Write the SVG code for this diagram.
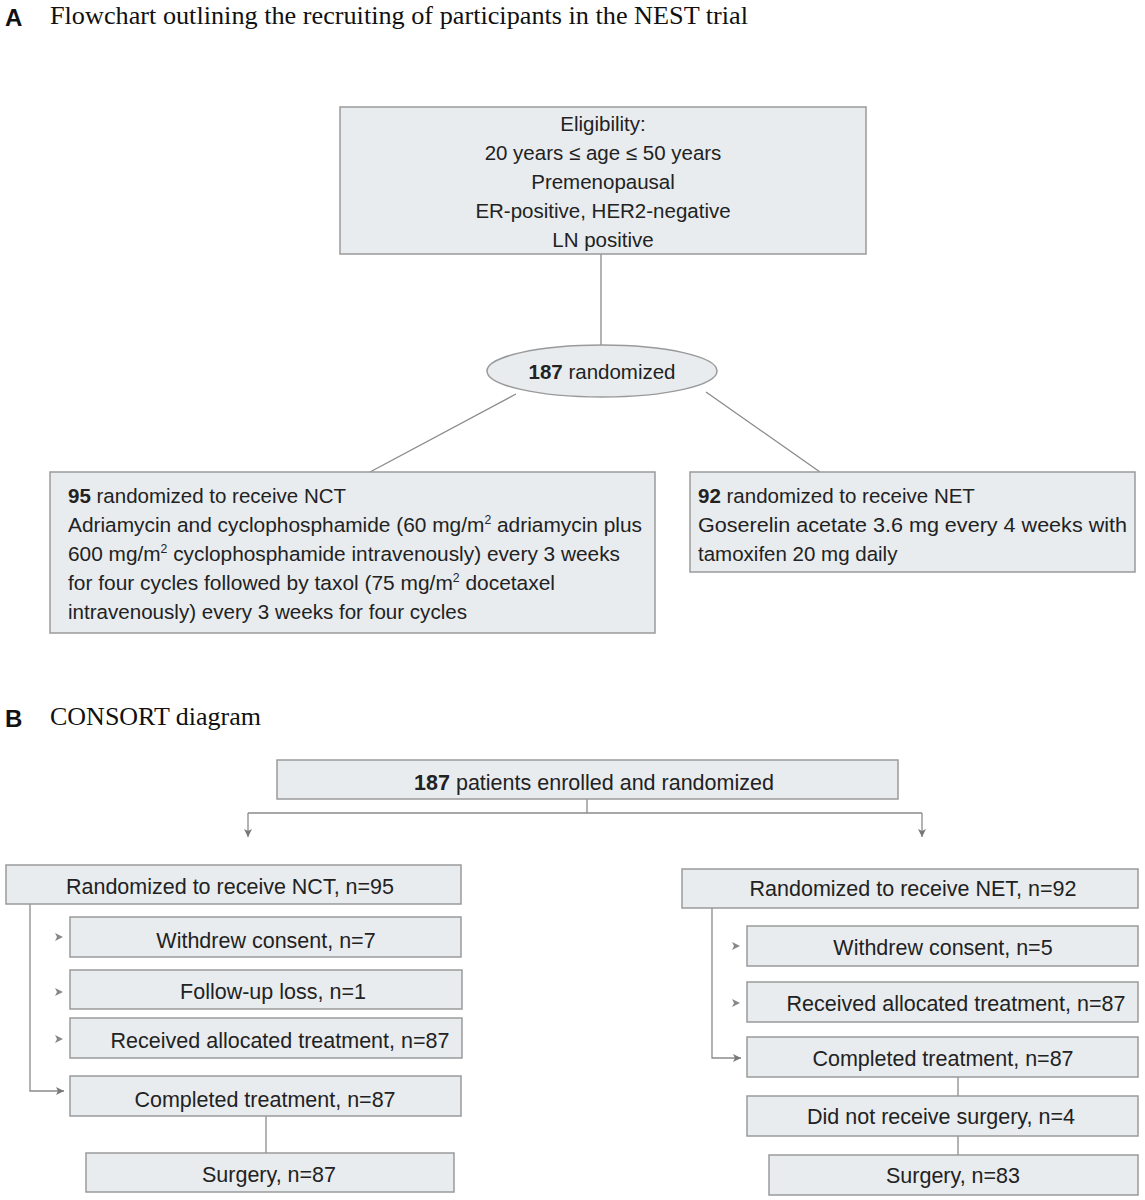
<svg xmlns="http://www.w3.org/2000/svg" width="1145" height="1200" viewBox="0 0 1145 1200">
<style>
.box{fill:#e8ecef;stroke:#9a9a9a;stroke-width:1.5}
.t{font-family:"Liberation Sans",Arial,sans-serif;font-size:20.5px;fill:#222}
.t2{font-family:"Liberation Sans",Arial,sans-serif;font-size:21.5px;fill:#222}
.c{text-anchor:middle}
.b{font-weight:bold}
.ttl{font-family:"Liberation Serif","Times New Roman",serif;font-size:25px;fill:#111}
.lbl{font-family:"Liberation Sans",Arial,sans-serif;font-size:24px;font-weight:bold;fill:#111}
.ln{stroke:#8a8a8a;stroke-width:1.3;fill:none}
.sup{font-size:12px}
</style>
<defs>
<marker id="ah" markerWidth="10" markerHeight="10" refX="9" refY="5" orient="auto" markerUnits="userSpaceOnUse">
<path d="M1,1 L9,5 L1,9 L3,5 Z" fill="#777"/>
</marker>
</defs>
<rect width="1145" height="1200" fill="#fff"/>
<text class="lbl" x="5" y="26">A</text>
<text class="ttl" x="50" y="24" textLength="698" lengthAdjust="spacingAndGlyphs">Flowchart outlining the recruiting of participants in the NEST trial</text>
<text class="lbl" x="5" y="727">B</text>
<text class="ttl" x="50" y="725" textLength="211" lengthAdjust="spacingAndGlyphs">CONSORT diagram</text>

<g id="connectors">
<line class="ln" x1="601" y1="254" x2="601" y2="345"/>
<line class="ln" x1="516" y1="394" x2="370" y2="472"/>
<line class="ln" x1="706" y1="392" x2="820" y2="472"/>
<line class="ln" x1="587" y1="799" x2="587" y2="813"/>
<line class="ln" x1="248" y1="813" x2="922" y2="813"/>
<line class="ln" x1="248" y1="813" x2="248" y2="837" marker-end="url(#ah)"/>
<line class="ln" x1="922" y1="813" x2="922" y2="837" marker-end="url(#ah)"/>
<polyline class="ln" points="30,904 30,1091 64,1091" marker-end="url(#ah)"/>
<path d="M55,933 L63,937 L55,941 L57,937 Z" fill="#888"/>
<path d="M55,988 L63,992 L55,996 L57,992 Z" fill="#888"/>
<path d="M55,1035 L63,1039 L55,1043 L57,1039 Z" fill="#888"/>
<line class="ln" x1="266" y1="1116" x2="266" y2="1153"/>
<polyline class="ln" points="712,908 712,1058 741,1058" marker-end="url(#ah)"/>
<path d="M732,942 L740,946 L732,950 L734,946 Z" fill="#888"/>
<path d="M732,999 L740,1003 L732,1007 L734,1003 Z" fill="#888"/>
<line class="ln" x1="958" y1="1077" x2="958" y2="1096"/>
<line class="ln" x1="958" y1="1136" x2="958" y2="1155"/>
</g>

<g id="eligibility">
<rect class="box" x="340" y="107" width="526" height="147"/>
<text class="t c" x="603" y="131">Eligibility:</text>
<text class="t c" x="603" y="160">20 years ≤ age ≤ 50 years</text>
<text class="t c" x="603" y="189">Premenopausal</text>
<text class="t c" x="603" y="218">ER-positive, HER2-negative</text>
<text class="t c" x="603" y="247">LN positive</text>
</g>

<g id="randomized">
<ellipse class="box" cx="602" cy="371" rx="115" ry="26"/>
<text class="t c" x="602" y="379"><tspan class="b">187</tspan> randomized</text>
</g>

<g id="nct">
<rect class="box" x="50" y="472" width="605" height="161"/>
<text class="t" x="68" y="503"><tspan class="b">95</tspan> randomized to receive NCT</text>
<text class="t" x="68" y="532" textLength="574" lengthAdjust="spacingAndGlyphs">Adriamycin and cyclophosphamide (60 mg/m<tspan class="sup" dy="-8">2</tspan><tspan dy="8"> adriamycin plus</tspan></text>
<text class="t" x="68" y="561" textLength="552" lengthAdjust="spacingAndGlyphs">600 mg/m<tspan class="sup" dy="-8">2</tspan><tspan dy="8"> cyclophosphamide intravenously) every 3 weeks</tspan></text>
<text class="t" x="68" y="590" textLength="487" lengthAdjust="spacingAndGlyphs">for four cycles followed by taxol (75 mg/m<tspan class="sup" dy="-8">2</tspan><tspan dy="8"> docetaxel</tspan></text>
<text class="t" x="68" y="619" textLength="399" lengthAdjust="spacingAndGlyphs">intravenously) every 3 weeks for four cycles</text>
</g>

<g id="net">
<rect class="box" x="690" y="472" width="445" height="100"/>
<text class="t" x="698" y="503"><tspan class="b">92</tspan> randomized to receive NET</text>
<text class="t" x="698" y="532" textLength="429" lengthAdjust="spacingAndGlyphs">Goserelin acetate 3.6 mg every 4 weeks with</text>
<text class="t" x="698" y="561">tamoxifen 20 mg daily</text>
</g>

<g id="enrolled">
<rect class="box" x="277" y="760" width="621" height="39"/>
<text class="t2 c" x="594" y="790"><tspan class="b">187</tspan> patients enrolled and randomized</text>
</g>

<g id="l1"><rect class="box" x="6" y="865" width="455" height="39"/><text class="t2 c" x="230" y="894">Randomized to receive NCT, n=95</text></g>
<g id="l2"><rect class="box" x="70" y="917" width="391" height="40"/><text class="t2 c" x="266" y="948">Withdrew consent, n=7</text></g>
<g id="l3"><rect class="box" x="70" y="970" width="392" height="39"/><text class="t2 c" x="273" y="999">Follow-up loss, n=1</text></g>
<g id="l4"><rect class="box" x="70" y="1018" width="392" height="40"/><text class="t2 c" x="280" y="1048">Received allocated treatment, n=87</text></g>
<g id="l5"><rect class="box" x="70" y="1076" width="391" height="40"/><text class="t2 c" x="265" y="1107">Completed treatment, n=87</text></g>
<g id="l6"><rect class="box" x="86" y="1153" width="368" height="39"/><text class="t2 c" x="269" y="1182">Surgery, n=87</text></g>

<g id="r1"><rect class="box" x="682" y="869" width="456" height="39"/><text class="t2 c" x="913" y="896">Randomized to receive NET, n=92</text></g>
<g id="r2"><rect class="box" x="747" y="926" width="391" height="40"/><text class="t2 c" x="943" y="955">Withdrew consent, n=5</text></g>
<g id="r3"><rect class="box" x="747" y="982" width="391" height="40"/><text class="t2 c" x="956" y="1011">Received allocated treatment, n=87</text></g>
<g id="r4"><rect class="box" x="747" y="1037" width="391" height="40"/><text class="t2 c" x="943" y="1066">Completed treatment, n=87</text></g>
<g id="r5"><rect class="box" x="747" y="1096" width="391" height="40"/><text class="t2 c" x="941" y="1124">Did not receive surgery, n=4</text></g>
<g id="r6"><rect class="box" x="769" y="1155" width="369" height="40"/><text class="t2 c" x="953" y="1183">Surgery, n=83</text></g>
</svg>
